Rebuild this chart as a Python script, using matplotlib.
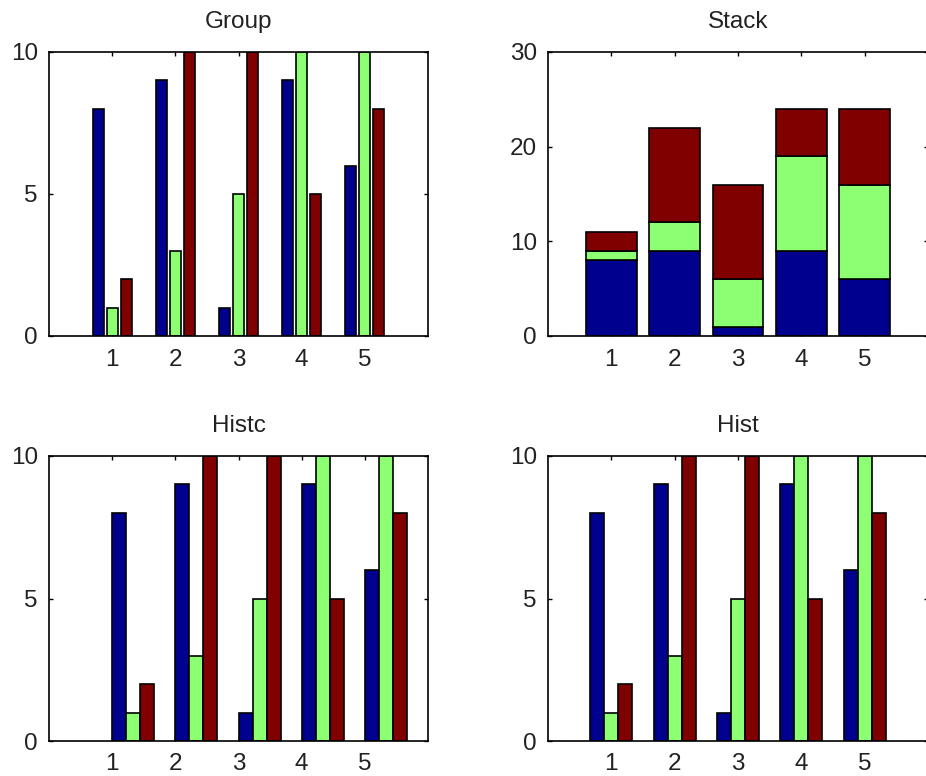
import matplotlib
matplotlib.use("Agg")
import matplotlib.pyplot as plt
import numpy as np

plt.rcParams['font.family'] = ['Liberation Sans', 'DejaVu Sans']

categories = [1, 2, 3, 4, 5]
series_a = [8, 9, 1, 9, 6]
series_b = [1, 3, 5, 10, 10]
series_c = [2, 10, 10, 5, 8]
series = [series_a, series_b, series_c]
colors = ['#00008F', '#8CFF72', '#800000']
titles = ['Group', 'Stack', 'Histc', 'Hist']

W, H = 926, 776
fig = plt.figure(figsize=(W / 100, H / 100), dpi=100)

def px_axes(l, t, r, b):
    return fig.add_axes([l / W, 1 - b / H, (r - l) / W, (b - t) / H])

axes = [
    px_axes(49, 52, 428, 336),
    px_axes(548, 52, 928, 336),
    px_axes(49, 456, 428, 741),
    px_axes(548, 456, 928, 741),
]

x = np.array(categories, dtype=float)
step = 2.0 / 9.0  # spacing between grouped bars
txt = '#222222'

def style(ax, title, ymax, yticks):
    ax.set_xlim(0, 6)
    ax.set_ylim(0, ymax)
    ax.set_xticks(categories)
    ax.set_yticks(yticks)
    ax.tick_params(direction='in', length=3, width=1, top=True, right=True,
                   labelsize=17.5, colors='black', labelcolor=txt)
    ax.tick_params(axis='x', pad=9)
    ax.tick_params(axis='y', pad=8)
    for s in ax.spines.values():
        s.set_linewidth(1.2)
    ax.set_title(title, fontsize=17.5, pad=17, color=txt)

# Group
ax = axes[0]
for i, vals in enumerate(series):
    ax.bar(x + (i - 1) * step, vals, width=0.8 * step, color=colors[i],
           edgecolor='black', linewidth=1.2, zorder=2)
style(ax, titles[0], 10, [0, 5, 10])

# Stack
ax = axes[1]
bottom = np.zeros(len(categories))
for i, vals in enumerate(series):
    ax.bar(x, vals, width=0.8, bottom=bottom, color=colors[i],
           edgecolor='black', linewidth=1.2, zorder=2)
    bottom += np.array(vals)
style(ax, titles[1], 30, [0, 10, 20, 30])

# Histc (bars start at the edge)
ax = axes[2]
for i, vals in enumerate(series):
    ax.bar(x + i * step, vals, width=step, align='edge', color=colors[i],
           edgecolor='black', linewidth=1.2, zorder=2)
style(ax, titles[2], 10, [0, 5, 10])

# Hist (centered groups, contiguous)
ax = axes[3]
for i, vals in enumerate(series):
    ax.bar(x + (i - 1) * step, vals, width=step, color=colors[i],
           edgecolor='black', linewidth=1.2, zorder=2)
style(ax, titles[3], 10, [0, 5, 10])

fig.savefig('out.png', dpi=100)
